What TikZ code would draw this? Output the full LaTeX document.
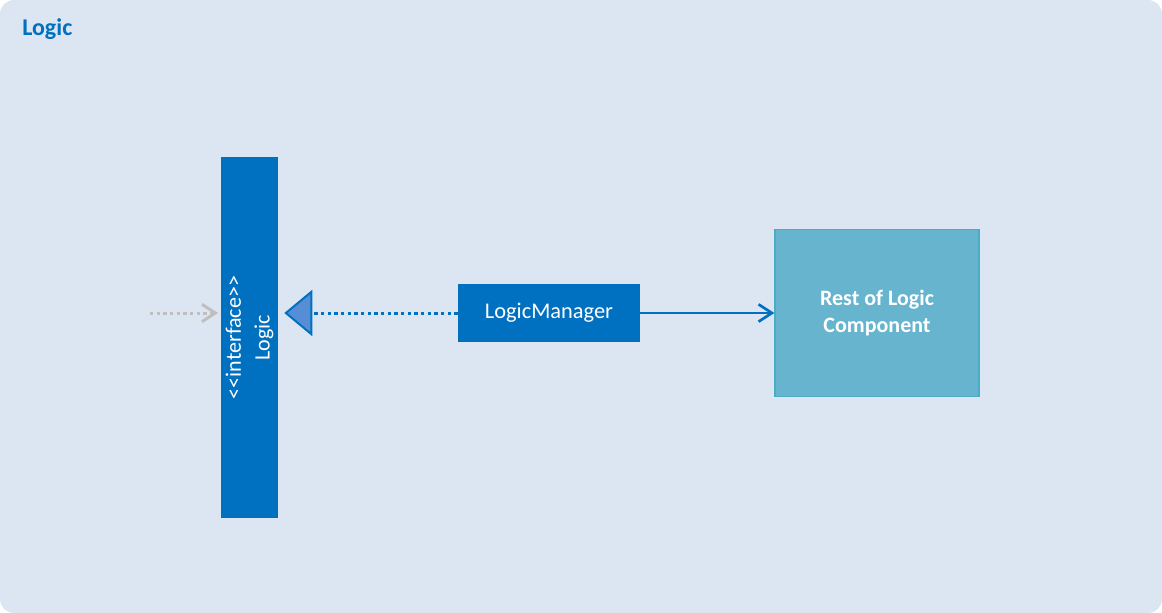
\documentclass[tikz,border=0pt]{standalone}
\usepackage{fontspec}
\setmainfont{Carlito}
\usetikzlibrary{arrows.meta}

\definecolor{Fond}{HTML}{DCE6F2}
\definecolor{Bleu}{HTML}{0070C0}
\definecolor{BleuClair}{HTML}{558ED5}
\definecolor{Turquoise}{HTML}{66B4CD}
\definecolor{TurquoiseBord}{HTML}{4BACC6}
\definecolor{Gris}{HTML}{BFBFBF}

\tikzset{Iface/.style={fill=Bleu,text=white,minimum width=270.75pt,minimum height=42.75pt,inner sep=0pt,rotate=90,align=center,font=\fontsize{16.5}{21.5}\selectfont}}
\tikzset{Classe/.style={fill=Bleu,text=white,minimum width=136.5pt,minimum height=43.5pt,inner sep=0pt,rectangle,font=\fontsize{16.8}{21}\selectfont}}
\tikzset{Comp/.style={fill=Turquoise,draw=TurquoiseBord,line width=1pt,text=white,minimum width=153pt,minimum height=125.25pt,inner sep=0pt,align=center,font=\bfseries\fontsize{16.5}{20}\selectfont}}
\tikzset{Real/.style={Bleu,line width=2.25pt,dash pattern=on 2.5pt off 2.5pt,-{Triangle[length=21pt,width=34.5pt,fill=BleuClair,line width=1.5pt]},shorten >=4.5pt}}
\tikzset{Assoc/.style={Bleu,line width=2pt,-{Straight Barb[length=10pt,width=13pt,line width=2pt]}}}
\tikzset{Dep/.style={Gris,line width=2.25pt,dash pattern=on 2.5pt off 2.5pt,-{Straight Barb[length=10pt,width=13pt,line width=2.25pt]},shorten >=2pt}}

\begin{document}
\begin{tikzpicture}[x=0.75pt,y=-0.75pt]

\fill[Fond,rounded corners=10.5pt] (0,0) rectangle (1162,613);
\node[anchor=base west,text=Bleu,inner sep=0pt,font=\bfseries\fontsize{18}{21}\selectfont] (titre) at (22,36) {Logic};

\node[Iface] (I) at (249.5,337.5) {<{}<interface>{}>\\Logic};
\node[Classe] (LM) at (549,313) {LogicManager};
\node[Comp] (R) at (877,313) {Rest of Logic\\Component};
\coordinate (ext) at (150,313);

% rotate=90 : south est le cote droit, north le cote gauche
\draw[Real] (LM.west) -- (I.south |- LM.west);
\draw[Assoc] (LM) -- (R);
\draw[Dep] (ext) -- (I.north |- ext);

\end{tikzpicture}
\end{document}
